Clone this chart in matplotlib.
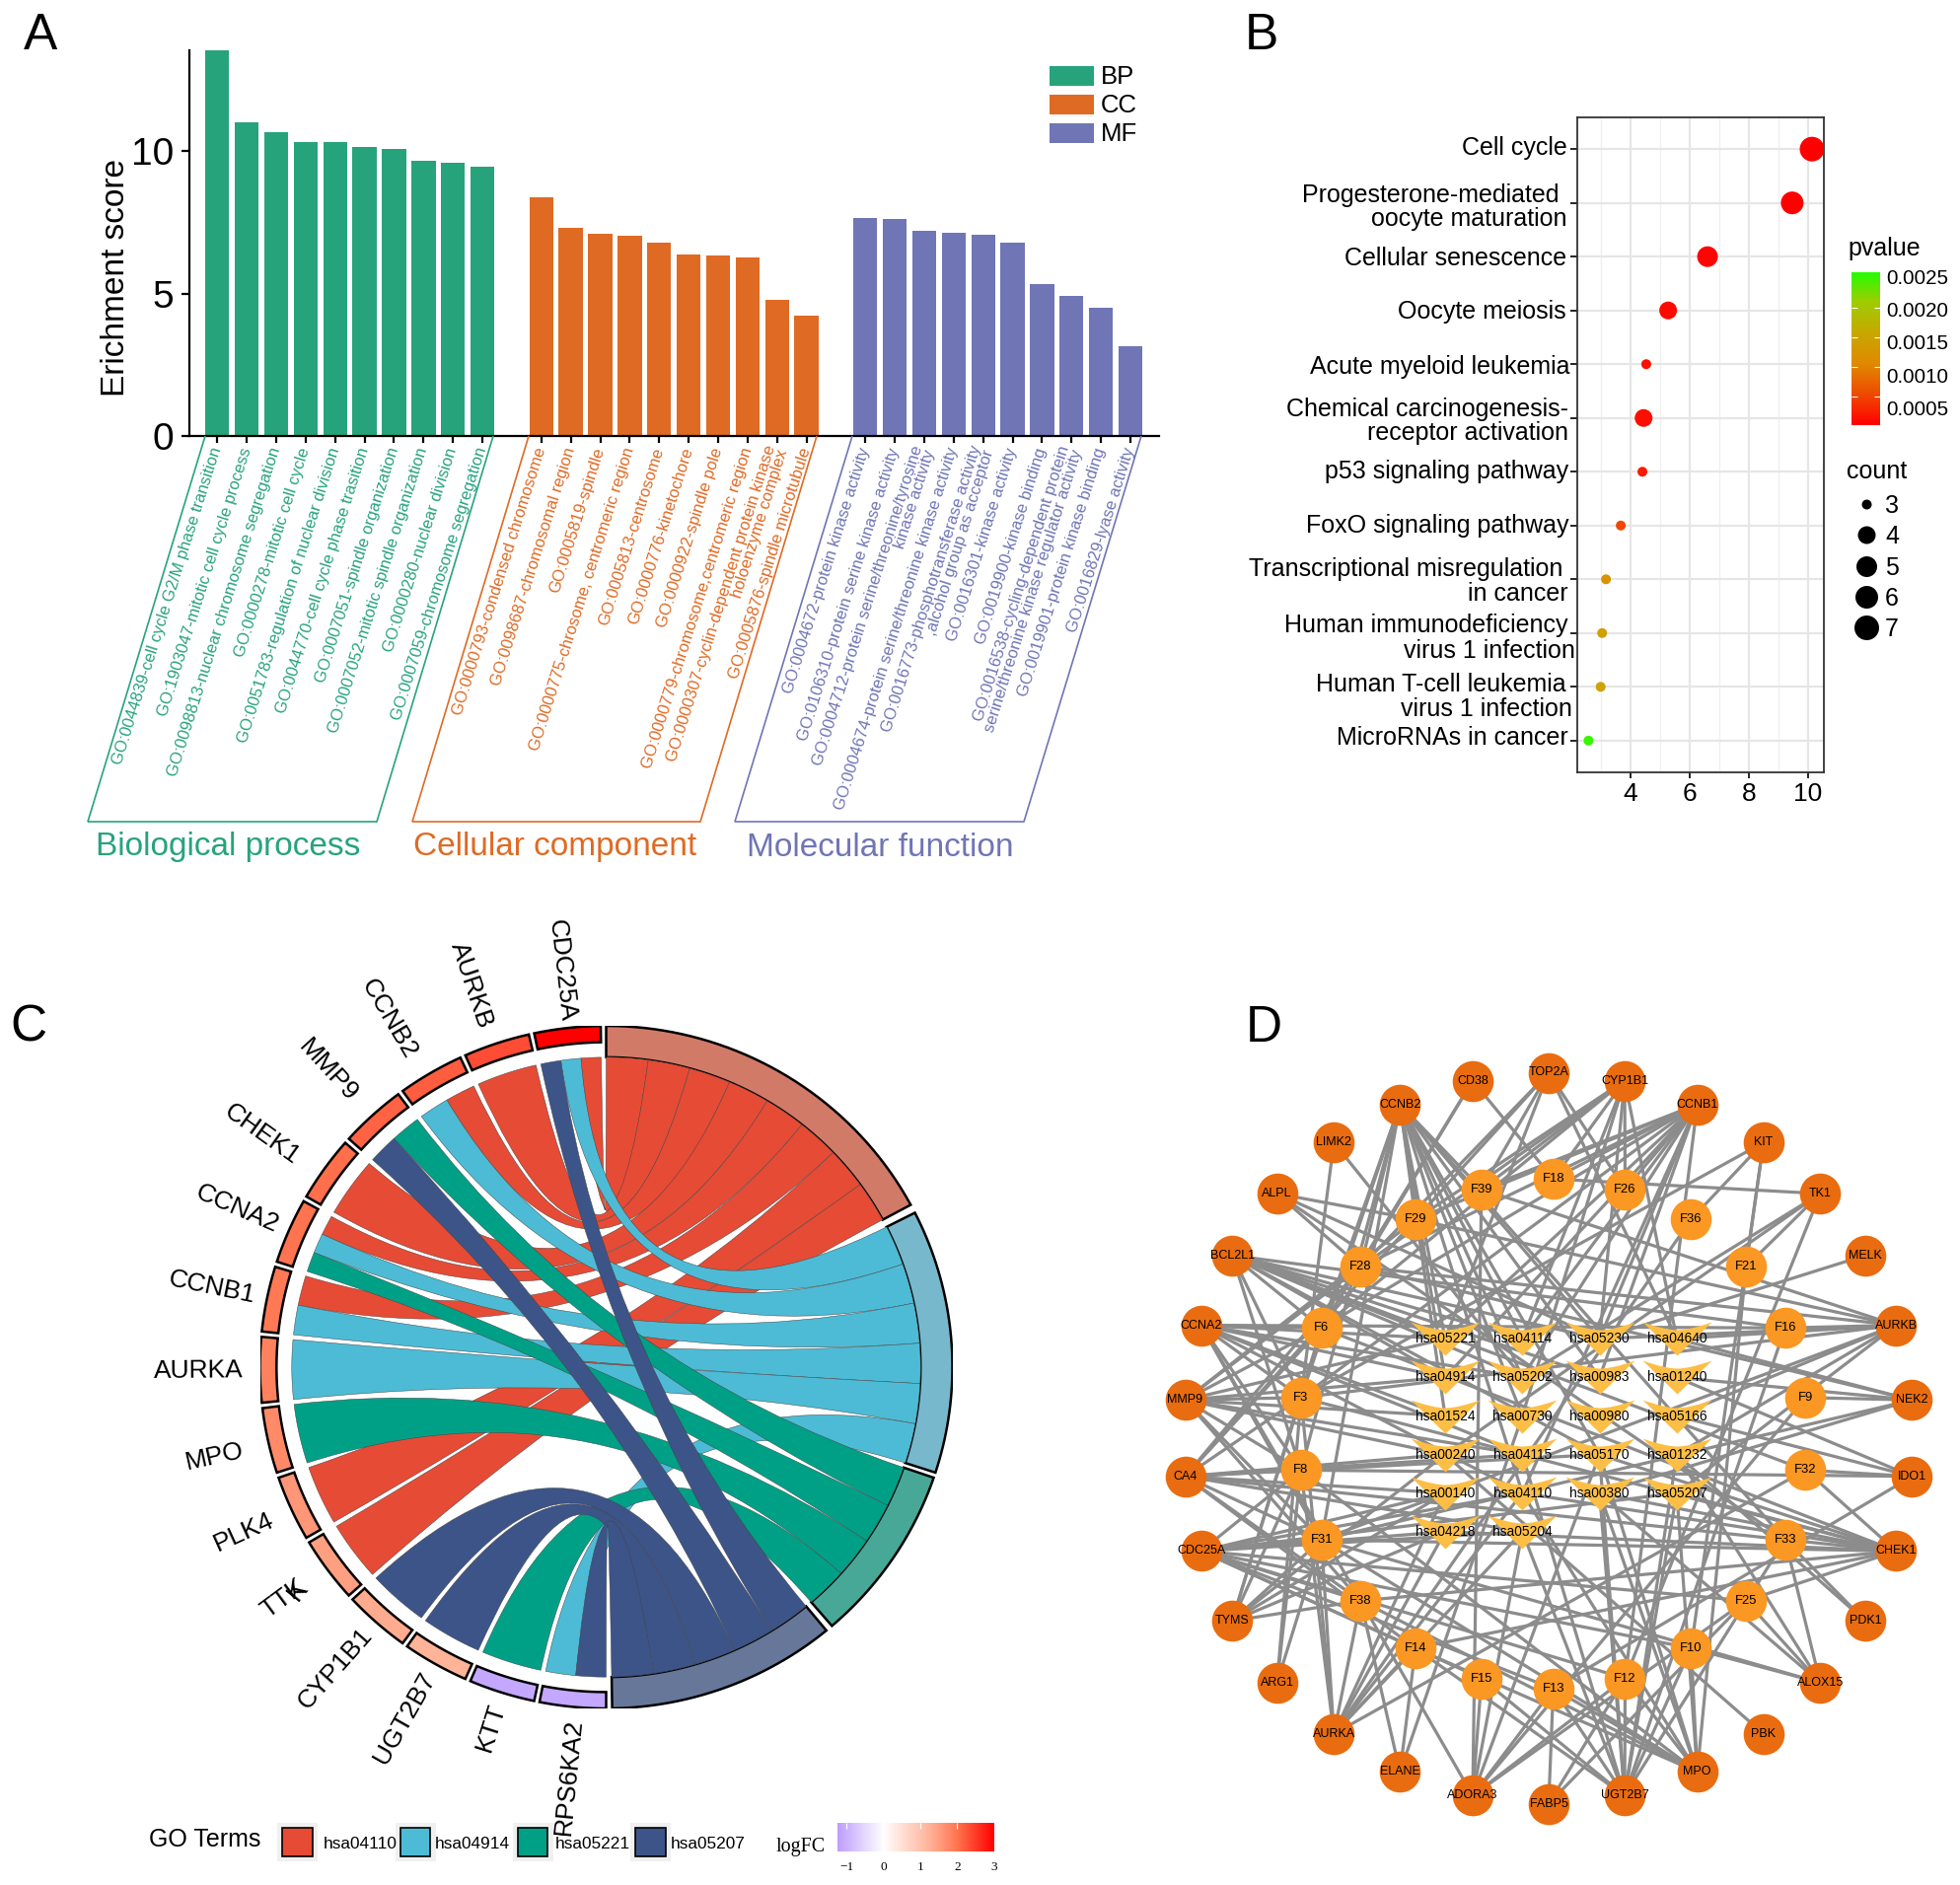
#!/usr/bin/env python3
"""Four panel enrichment figure: GO bars, KEGG dots, chord diagram, network."""

import numpy as np
import matplotlib
matplotlib.use('Agg')
import matplotlib.pyplot as plt
from matplotlib.path import Path
from matplotlib.patches import PathPatch, Rectangle, Polygon
from matplotlib.colors import LinearSegmentedColormap, Normalize

plt.rcParams['font.family'] = ['Liberation Sans', 'DejaVu Sans']

W, H = 1987, 1911

# ---- panel A data
bp_labels = ['GO:0044839-cell cycle G2/M phase transition', 'GO:1903047-mitotic cell cycle process',
             'GO:0098813-nuclear chromosome segregation', 'GO:0000278-mitotic cell cycle',
             'GO:0051783-regulation of nuclear division', 'GO:0044770-cell cycle phase trasition',
             'GO:0007051-spindle organization', 'GO:0007052-mitotic spindle organization',
             'GO:0000280-nuclear division', 'GO:0007059-chromosome segregation']
cc_labels = ['GO:0000793-condensed chromosome', 'GO:0098687-chromosomal region', 'GO:0005819-spindle',
             'GO:0000775-chrosome, centromeric region', 'GO:0005813-centrosome', 'GO:0000776-kinetochore',
             'GO:0000922-spindle pole', 'GO:0000779-chromosome,centromeric region',
             'GO:0000307-cyclin-dependent protein kinase\nholoenzyme complex', 'GO:0005876-spindle microtubule']
mf_labels = ['GO:0004672-protein kinase activity', 'GO:0106310-protein serine kinase activity',
             'GO:0004712-protein serine/threonine/tyrosine\nkinase activity',
             'GO:0004674-protein serine/threonine kinase activity',
             'GO:0016773-phosphotransferase activity\n,alcohol group as acceptor',
             'GO:0016301-kinase activity', 'GO:0019900-kinase binding',
             'GO:0016538-cycling-dependent protein\nserine/threonine kinase regulator activity',
             'GO:0019901-protein kinase binding', 'GO:0016829-lyase activity']
bp_scores = [13.6, 11.0, 10.65, 10.32, 10.3, 10.15, 10.08, 9.65, 9.57, 9.45]
cc_scores = [8.37, 7.3, 7.08, 7.03, 6.78, 6.38, 6.32, 6.25, 4.77, 4.23]
mf_scores = [7.65, 7.6, 7.2, 7.12, 7.05, 6.78, 5.33, 4.9, 4.5, 3.15]
group_short = ['BP', 'CC', 'MF']
group_long = ['Biological process', 'Cellular component', 'Molecular function']

# ---- panel B data
pathways = ['Cell cycle', 'Progesterone-mediated', 'oocyte maturation', 'Cellular senescence', 'Oocyte meiosis',
            'Acute myeloid leukemia', 'Chemical carcinogenesis-', 'receptor activation', 'p53 signaling pathway',
            'FoxO signaling pathway', 'Transcriptional misregulation', 'in cancer', 'Human immunodeficiency',
            'virus 1 infection', 'Human T-cell leukemia', 'virus 1 infection', 'MicroRNAs in cancer']
path_enrich = [10.13, 9.46, 6.6, 5.27, 4.53, 4.44, 4.40, 3.67, 3.17, 3.04, 2.99, 2.58]
path_count = [7, 6, 5, 4, 3, 4, 3, 3, 3, 3, 3, 3]
path_pvalue = [0.00001, 0.00002, 0.00004, 0.00008, 0.00012, 0.00012, 0.0002, 0.0005, 0.0012, 0.0014, 0.0015, 0.0025]
count_levels = [3, 4, 5, 6, 7]
pvalue_ticks = [0.0005, 0.0010, 0.0015, 0.0020, 0.0025]

# ---- panel C data
genes = ['CDC25A', 'AURKB', 'CCNB2', 'MMP9', 'CHEK1', 'CCNA2', 'CCNB1', 'AURKA', 'MPO', 'PLK4', 'TTK',
         'CYP1B1', 'UGT2B7', 'KTT', 'RPS6KA2']
gene_logfc = [3.0, 2.35, 2.2, 2.15, 2.05, 2.0, 1.95, 1.85, 1.75, 1.6, 1.5, 1.35, 1.25, -1.1, -1.1]
chord_terms = ['hsa04110', 'hsa04914', 'hsa05221', 'hsa05207']
hsa04110_genes = ['CDC25A', 'AURKB', 'CCNB2', 'CHEK1', 'CCNA2', 'CCNB1', 'PLK4', 'TTK']
hsa04914_genes = ['CDC25A', 'CCNB2', 'CCNA2', 'CCNB1', 'AURKA', 'RPS6KA2']
hsa05221_genes = ['MMP9', 'CCNA2', 'MPO', 'KTT']
hsa05207_genes = ['CDC25A', 'MMP9', 'CYP1B1', 'UGT2B7', 'RPS6KA2']
logfc_ticks = [-1, 0, 1, 2, 3]

# ---- panel D data
outer_nodes = ['TOP2A', 'CYP1B1', 'CCNB1', 'KIT', 'TK1', 'MELK', 'AURKB', 'NEK2', 'IDO1', 'CHEK1', 'PDK1',
               'ALOX15', 'PBK', 'MPO', 'UGT2B7', 'FABP5', 'ADORA3', 'ELANE', 'AURKA', 'ARG1', 'TYMS', 'CDC25A',
               'CA4', 'MMP9', 'CCNA2', 'BCL2L1', 'ALPL', 'LIMK2', 'CCNB2', 'CD38']
inner_nodes = ['F18', 'F26', 'F36', 'F21', 'F16', 'F9', 'F32', 'F33', 'F25', 'F10', 'F12', 'F13', 'F15', 'F14',
               'F38', 'F31', 'F8', 'F3', 'F6', 'F28', 'F29', 'F39']
center_nodes = ['hsa05221', 'hsa04114', 'hsa05230', 'hsa04640', 'hsa04914', 'hsa05202', 'hsa00983', 'hsa01240',
                'hsa01524', 'hsa00730', 'hsa00980', 'hsa05166', 'hsa00240', 'hsa04115', 'hsa05170', 'hsa01232',
                'hsa00140', 'hsa04110', 'hsa00380', 'hsa05207', 'hsa04218', 'hsa05204']
network_edges = {
    'TOP2A': ['F39', 'F29', 'F28', 'F26', 'hsa05221', 'hsa04640'],
    'CYP1B1': ['F29', 'F28', 'F39', 'F18', 'F26', 'F6', 'hsa04640', 'hsa05230', 'hsa00730', 'hsa04114'],
    'CCNB1': ['F39', 'F29', 'F26', 'F18', 'F28', 'F6', 'F3', 'F12', 'hsa05230', 'hsa05221', 'hsa04114',
              'hsa04914', 'hsa05202', 'hsa04110', 'hsa00983'],
    'KIT': ['F36', 'F21', 'F3', 'F10'],
    'TK1': ['F18', 'F21', 'F12', 'hsa00240', 'hsa05202'],
    'MELK': ['hsa05230'],
    'AURKB': ['F16', 'F29', 'F28', 'F39', 'F31', 'F3', 'hsa05230', 'hsa04640', 'hsa05166', 'hsa01232', 'hsa05207'],
    'NEK2': ['hsa04640', 'F9', 'F31', 'hsa01240', 'F28', 'hsa00380'],
    'IDO1': ['F32', 'F8', 'hsa01240', 'F13', 'hsa05166'],
    'CHEK1': ['F32', 'F33', 'hsa05207', 'hsa00380', 'hsa05170', 'F38', 'hsa04218', 'F25', 'hsa04110', 'F31', 'F6',
              'F3', 'F14'],
    'PDK1': ['F33', 'hsa01232'],
    'ALOX15': ['F25', 'F10', 'hsa01232', 'hsa00380', 'F31', 'F33'],
    'PBK': ['hsa00240'],
    'MPO': ['F12', 'F10', 'F13', 'F14', 'F38', 'F31', 'hsa05207', 'hsa00380', 'hsa05170', 'hsa04110', 'F21', 'F8'],
    'UGT2B7': ['F12', 'F10', 'F15', 'F13', 'F14', 'F16', 'F33', 'hsa05207', 'hsa01232', 'hsa00380', 'hsa04115',
               'hsa05170', 'hsa05204'],
    'FABP5': ['F12', 'F13', 'F25'],
    'ADORA3': ['F38', 'F15', 'F13', 'F12', 'F9', 'F39', 'F25', 'hsa05204', 'hsa05170'],
    'ELANE': ['F38', 'F14', 'hsa00730'],
    'AURKA': ['F31', 'F38', 'F14', 'F32', 'F36', 'hsa00140', 'hsa04110', 'hsa04218', 'hsa05204', 'F3', 'F8'],
    'ARG1': ['F31', 'F8', 'F3'],
    'TYMS': ['F8', 'F31', 'F38', 'F3', 'hsa00140', 'hsa04218', 'hsa00240', 'F6'],
    'CDC25A': ['F8', 'F31', 'F38', 'F14', 'F15', 'F13', 'F12', 'F10', 'hsa04218', 'hsa05204', 'hsa00140',
               'hsa04110', 'F25', 'hsa05207'],
    'CA4': ['F6', 'F28', 'F3', 'F8', 'F31', 'F38', 'F14', 'F29', 'hsa00240', 'hsa00140', 'hsa05204', 'hsa04115',
            'hsa05170', 'F33'],
    'MMP9': ['F6', 'F28', 'F3', 'F8', 'F31', 'F29', 'hsa05221', 'hsa04914', 'hsa01524', 'hsa00240', 'hsa04115',
             'F38'],
    'CCNA2': ['F6', 'F3', 'F8', 'F31', 'F38', 'hsa05221', 'hsa04914', 'hsa01524', 'hsa04110', 'hsa04115',
              'hsa05202', 'F16'],
    'BCL2L1': ['F8', 'F6', 'F3', 'hsa05221', 'hsa04914', 'hsa04114', 'hsa05202', 'hsa05230', 'hsa05170', 'F32',
               'F16', 'hsa00983'],
    'ALPL': ['F28', 'F29', 'hsa05230', 'F33'],
    'LIMK2': ['F3', 'hsa05202'],
    'CCNB2': ['F28', 'F6', 'F3', 'F29', 'F8', 'F39', 'F31', 'hsa05221', 'hsa04914', 'hsa01524', 'hsa04110',
              'hsa05202', 'hsa04114', 'hsa05230', 'hsa00983', 'hsa05170', 'hsa00730', 'F33'],
    'CD38': ['F28', 'F6', 'F18'],
}

# ---- colours
group_colors = ['#27A37C', '#DF6A24', '#6F75B5']
term_colors = ['#E64B35', '#4DBBD5', '#00A087', '#3C5488']
ring_colors = ['#D27A68', '#78B8CC', '#48A898', '#667799']
outer_color = '#E96C10'
inner_color = '#FB9723'
center_color = '#FDBE46'
edge_color = '#8C8C8C'

pvalue_cmap = LinearSegmentedColormap.from_list(
    'pv', [(0, '#FF0000'), (0.2, '#F04A00'), (0.4, '#E08A00'), (0.6, '#C8A800'), (0.8, '#A0CC00'), (1, '#20FF00')])
pvalue_norm = Normalize(0.00001, 0.0026)
logfc_min, logfc_max = -1.23, 3.0
logfc_span = logfc_max - logfc_min
logfc_cmap = LinearSegmentedColormap.from_list(
    'fc', [(0, '#BE9EFF'), (1.23 / logfc_span, '#FFFFFF'), ((1.23 + 1.3) / logfc_span, '#FFB095'),
           ((1.23 + 2.0) / logfc_span, '#FF7550'), (1, '#FF0000')])
logfc_norm = Normalize(logfc_min, logfc_max)

fig = plt.figure(figsize=(W / 100, H / 100), dpi=100)


def px_axes(left, top, right, bottom, **kw):
    return fig.add_axes([left / W, 1 - bottom / H, (right - left) / W, (bottom - top) / H], **kw)


# overlay in pixel coordinates for panel letters and free text
over = fig.add_axes([0, 0, 1, 1], zorder=5)
over.set_xlim(0, W)
over.set_ylim(H, 0)
over.axis('off')
over.patch.set_alpha(0)

for letter, lx, ly in [('A', 24, 50), ('B', 1262, 50), ('C', 10, 1056), ('D', 1263, 1056)]:
    over.text(lx, ly, letter, fontsize=37, ha='left', va='baseline')

# ---------------------------------------------------------------- panel A
ax = px_axes(191.7, 51, 1175, 442)
ax.set_xlim(-0.958, 31.97)
ax.set_ylim(0, 13.53)
group_scores = [bp_scores, cc_scores, mf_scores]
group_labels = [bp_labels, cc_labels, mf_labels]
bracket_px = [(208, 89, 382, 500), (536, 418, 710, 828), (864, 745, 1038, 1157)]
title_px = [231.5, 562.5, 892]
all_ticks = []
for g in range(3):
    xs = np.arange(10) + 11 * g
    all_ticks.extend(xs)
    ax.bar(xs, group_scores[g], width=0.815, color=group_colors[g])
    for x, lab in zip(xs, group_labels[g]):
        ax.text(x, -0.42, lab, rotation=72.5, rotation_mode='anchor', ha='right', va='center',
                multialignment='right', fontsize=12, color=group_colors[g], linespacing=0.85, clip_on=False)
    tl, bl, br, tr = bracket_px[g]
    over.add_patch(Polygon([(tl, 442), (bl, 833), (br, 833), (tr, 442)], closed=False, fill=False,
                           edgecolor=group_colors[g], lw=1.2))
    over.text(title_px[g], 859, group_long[g], color=group_colors[g], fontsize=24, ha='center', va='center')
    over.add_patch(Rectangle((1064, 67 + 29 * g), 45, 20, color=group_colors[g], lw=0))
    over.text(1116, 78 + 29 * g, group_short[g], fontsize=18.5, ha='left', va='center')
ax.set_xticks(all_ticks)
ax.set_xticklabels([])
ax.set_yticks([0, 5, 10])
ax.tick_params(axis='y', labelsize=28, length=6, width=1.6, pad=5)
ax.tick_params(axis='x', length=5, width=1.6)
for side in ['top', 'right']:
    ax.spines[side].set_visible(False)
for side in ['left', 'bottom']:
    ax.spines[side].set_linewidth(1.6)
over.text(117, 281, 'Erichment score', fontsize=24, rotation=90, ha='center', va='center')

# ---------------------------------------------------------------- panel B
ax = px_axes(1599, 119, 1848.7, 783)
ax.set_xlim(2.2, 10.52)
rows = np.arange(1, 13)
ax.set_ylim(12.59, 0.41)
sizes = {3: 10, 4: 18, 5: 21, 6: 23, 7: 25}
ax.set_axisbelow(True)
ax.set_xticks([4, 6, 8, 10])
ax.set_xticks([3, 5, 7, 9], minor=True)
ax.set_yticks(rows)
ax.set_yticklabels([])
ax.grid(True, which='major', color='#E6E6E6', lw=1.6)
ax.grid(True, which='minor', axis='x', color='#EFEFEF', lw=0.9)
ax.tick_params(axis='x', which='minor', length=0)
ax.tick_params(axis='x', which='major', labelsize=19, length=4, width=1.2, pad=3)
ax.tick_params(axis='y', length=5, width=1.2)
for s in ax.spines.values():
    s.set_color('#333333')
    s.set_linewidth(1.3)
ax.scatter(path_enrich, rows, s=[(sizes[c] * 0.72) ** 2 for c in path_count],
           c=path_pvalue, cmap=pvalue_cmap, norm=pvalue_norm, linewidths=0, zorder=3)
label_right = [1589, 1581, 1588, 1588, 1588, 1591, 1590, 1590, 1590, 1590, 1584, 1590, 1589, 1597, 1588, 1594, 1590]
label_y = [150, 198, 222, 262, 316, 372, 415, 439, 478, 533, 577, 602, 634, 660, 694, 719, 748]
for lab, rx, ry in zip(pathways, label_right, label_y):
    over.text(rx, ry, lab, fontsize=18, ha='right', va='center')

cax = px_axes(1877, 275.6, 1906, 431)
grad = np.linspace(0.0026, 0.00001, 256).reshape(-1, 1)
cax.imshow(grad, aspect='auto', cmap=pvalue_cmap, norm=pvalue_norm, extent=[0, 1, 0.00001, 0.0026])
cax.axis('off')
for t in pvalue_ticks[:-1]:
    cax.hlines(t, 0, 0.2, color='white', lw=0.8)
    cax.hlines(t, 0.8, 1, color='white', lw=0.8)
over.text(1873, 252, 'pvalue', fontsize=18, ha='left', va='center')
for t, ty in zip(pvalue_ticks[::-1], [283, 315.5, 349, 382, 415.5]):
    over.text(1912, ty, f'{t:.4f}', fontsize=14.8, ha='left', va='center')
over.text(1872, 478, 'count', fontsize=18, ha='left', va='center')
for c, cy in zip(count_levels, [511, 542, 573.6, 605, 636]):
    over.scatter([1892], [cy], s=(sizes[c] * 0.72) ** 2, color='black', linewidths=0)
    over.text(1918, cy + 2, str(c), fontsize=18, ha='center', va='center')

# ---------------------------------------------------------------- panel C
ax = px_axes(263.5, 1040, 965.5, 1732)
ax.set_xlim(-1, 1)
ax.set_ylim(-1, 1)
ax.axis('off')


def polar(angle, r):
    a = np.radians(angle)
    return r * np.sin(a), r * np.cos(a)


def arc_pts(a0, a1, r, n=40):
    return [polar(a, r) for a in np.linspace(a0, a1, n)]


def ring_patch(a0, a1, r_in, r_out, color):
    pts = arc_pts(a0, a1, r_out) + arc_pts(a1, a0, r_in)
    ax.add_patch(Polygon(pts, closed=True, facecolor=color, edgecolor='black', lw=1.8, joinstyle='miter'))


# clockwise from the top: start and end of each pathway sector
term_span = [(0.0, 61.6), (63.1, 108.0), (108.9, 139.3), (140.5, 179.0)]
term_members = [hsa04110_genes, hsa04914_genes, hsa05221_genes, hsa05207_genes]
gene_step = 12.0
chord_r = 0.908
# nudges of the gene names away from the plain radial spot, in points
label_nudge = [(1, -4), (-5, 3), (-10, 4), (-8, 6), (-13, 2), (0, 0), (0, 0), (-3, 0), (-9, -5), (-5, -4),
               (-11, -5), (0, 0), (0, 0), (0, 0), (2, 0)]

# split each gene arc between the pathways it belongs to
gene_slices = {}
for i, g in enumerate(genes):
    member = [t for t in range(4) if g in term_members[t]]
    th0, th1 = i * gene_step + 0.9, i * gene_step + gene_step
    bounds = np.linspace(th0, th1, len(member) + 1)
    for k, t in enumerate(member):
        gene_slices[(g, t)] = (360 - bounds[k + 1], 360 - bounds[k])
    ring_patch(360 - th1, 360 - th0, 0.952, 1.0, logfc_cmap(logfc_norm(gene_logfc[i])))

for t in range(4):
    a0, a1 = term_span[t]
    ring_patch(a0, a1, chord_r, 1.0, ring_colors[t])
    bounds = np.linspace(a0, a1, len(term_members[t]) + 1)
    for k, g in enumerate(term_members[t]):
        g0, g1 = gene_slices[(g, t)]
        verts = arc_pts(bounds[k], bounds[k + 1], chord_r, 15)
        codes = [Path.MOVETO] + [Path.LINETO] * 14
        verts += [(0, 0), polar(g0, chord_r)]
        codes += [Path.CURVE3, Path.CURVE3]
        verts += arc_pts(g0, g1, chord_r, 15)[1:]
        codes += [Path.LINETO] * 14
        verts += [(0, 0), polar(bounds[k], chord_r)]
        codes += [Path.CURVE3, Path.CURVE3]
        ax.add_patch(PathPatch(Path(verts, codes), facecolor=term_colors[t], edgecolor='#444444', lw=0.35))

for i, g in enumerate(genes):
    th = i * gene_step + 0.45 + gene_step / 2
    lx, ly = polar(360 - th, 1.035)
    ax.annotate(g, xy=(lx, ly), xytext=label_nudge[i], textcoords='offset points', rotation=th - 90,
                rotation_mode='anchor', ha='right', va='center', fontsize=19, annotation_clip=False)
    if g == 'TTK':
        ax.annotate('K', xy=(lx, ly), xytext=label_nudge[i], textcoords='offset points', rotation=th - 75,
                    rotation_mode='anchor', ha='right', va='center', fontsize=19, annotation_clip=False)

# chord legend
over.text(151, 1865, 'GO Terms', fontsize=18, ha='left', va='center')
key_left = [286, 405.5, 524.5, 644]
key_text = [328, 441, 563, 680]
for t in range(4):
    over.add_patch(Rectangle((key_left[t] - 5, 1848), 41, 39, color='#F0F0F0', lw=0))
    over.add_patch(Rectangle((key_left[t], 1853), 30.5, 29, facecolor=term_colors[t], edgecolor='black', lw=1.2))
    over.text(key_text[t], 1870, chord_terms[t], fontsize=12.4, ha='left', va='center')
over.text(787, 1873, 'logFC', fontsize=14.4, family='Liberation Serif', ha='left', va='center')
fcax = px_axes(849, 1848, 1008, 1877)
fcax.imshow(np.linspace(logfc_min, logfc_max, 256).reshape(1, -1), aspect='auto', cmap=logfc_cmap, norm=logfc_norm,
            extent=[logfc_min, logfc_max, 0, 1])
fcax.axis('off')
for t in logfc_ticks:
    fcax.vlines(t, 0.8, 1, color='white', lw=0.8)
    over.text(858 + (t + 1) * 37.5, 1893, str(t).replace('-', '\u2212'), fontsize=9.5, family='Liberation Serif',
              ha='center', va='center')

# ---------------------------------------------------------------- panel D
pos = {}
for i, n in enumerate(outer_nodes):
    a = np.radians(i * 360 / len(outer_nodes))
    pos[n] = (1570 + 370.5 * np.sin(a), 1458 - 370.5 * np.cos(a))
for i, n in enumerate(inner_nodes):
    a = np.radians(i * 360 / len(inner_nodes))
    pos[n] = (1574.7 + 258.4 * np.sin(a), 1453.6 - 258.4 * np.cos(a))
for i, n in enumerate(center_nodes):
    pos[n] = (1465 + 78.3 * (i % 4), 1357.3 + 39.1 * (i // 4))

for gene, targets in network_edges.items():
    for target in targets:
        over.plot([pos[gene][0], pos[target][0]], [pos[gene][1], pos[target][1]], color=edge_color, lw=2.3,
                  zorder=2, solid_capstyle='round')

v_marker = Path([(-35, 17), (-12, 9), (0, 9), (12, 9), (35, 17), (0, -17), (-35, 17)],
                [Path.MOVETO, Path.CURVE3, Path.CURVE3, Path.CURVE3, Path.CURVE3, Path.LINETO, Path.CLOSEPOLY])
over.scatter([pos[n][0] for n in center_nodes], [pos[n][1] for n in center_nodes], marker=v_marker, s=2540,
             color=center_color, linewidths=0, zorder=3)
over.scatter([pos[n][0] for n in outer_nodes], [pos[n][1] for n in outer_nodes], s=(41.6 * 0.72) ** 2,
             color=outer_color, linewidths=0, zorder=4)
over.scatter([pos[n][0] for n in inner_nodes], [pos[n][1] for n in inner_nodes], s=(41.6 * 0.72) ** 2,
             color=inner_color, linewidths=0, zorder=4)
for n in outer_nodes:
    over.text(pos[n][0], pos[n][1], n, fontsize=9, ha='center', va='center', zorder=6)
for n in inner_nodes:
    over.text(pos[n][0], pos[n][1], n, fontsize=9.4, ha='center', va='center', zorder=6)
for n in center_nodes:
    over.text(pos[n][0], pos[n][1], n, fontsize=9.9, ha='center', va='center', zorder=6)

fig.savefig('out.png', dpi=100)
